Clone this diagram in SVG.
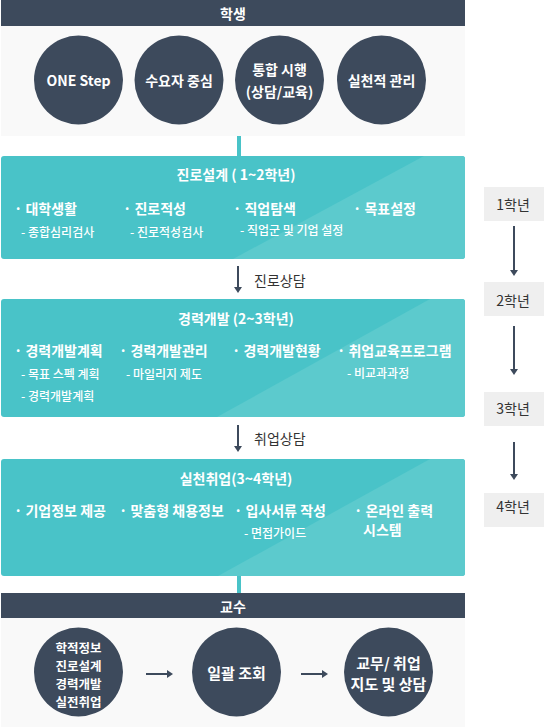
<svg xmlns="http://www.w3.org/2000/svg" width="544" height="727" viewBox="0 0 544 727">
<style>
text{font-family:"Noto Sans CJK KR","Noto Sans",sans-serif;dominant-baseline:central}
.hdr{fill:#3d4a5c}
.panel{fill:#f9f9f9}
.dot{fill:#3d4a5c}
.ct{fill:#fff;font-size:14px;font-weight:bold;text-anchor:middle}
.cb{fill:#fff;font-size:15px;font-weight:bold;text-anchor:middle}
.ct2{fill:#fff;font-size:12.5px;font-weight:bold;text-anchor:middle}
.ht{fill:#fff;font-size:14px;font-weight:bold;text-anchor:middle}
.teal{fill:#49c3c8}
.light{fill:#5ccacd}
.tt{fill:#fff;font-size:14px;font-weight:bold;text-anchor:middle}
.it{fill:#fff;font-size:14px;font-weight:bold}
.st{fill:#fff;font-size:12px;font-weight:500}
.lbl{fill:#333;font-size:14px}
.yr{fill:#efefef}
.yt{fill:#333;font-size:14px;text-anchor:middle}
.ln{stroke:#3d4a5c;stroke-width:2;fill:none}
.tl{fill:#49c3c8}
</style>
<defs>
<marker id="ah" markerUnits="userSpaceOnUse" markerWidth="10" markerHeight="10" refX="3" refY="4" orient="auto">
<path d="M0,0 L6,4 L0,8 z" fill="#3d4a5c"/>
</marker>
<clipPath id="c1"><rect x="1" y="156" width="464" height="103" rx="3"/></clipPath>
<clipPath id="c2"><rect x="1" y="299" width="464" height="118" rx="3"/></clipPath>
<clipPath id="c3"><rect x="1" y="459" width="464" height="117" rx="3"/></clipPath>
</defs>

<g id="student">
<rect class="hdr" x="1" y="0" width="464" height="26"/>
<text class="ht" x="233" y="13">학생</text>
<rect class="panel" x="1" y="26" width="464" height="110"/>
</g>
<g id="s1"><circle class="dot" cx="78.5" cy="80" r="44.5"/><text class="ct" x="78.5" y="80">ONE Step</text></g>
<g id="s2"><circle class="dot" cx="179" cy="80" r="44.5"/><text class="ct" x="179" y="80">수요자 중심</text></g>
<g id="s3"><circle class="dot" cx="279.5" cy="80" r="44.5"/><text class="ct" x="279.5" y="69">통합 시행</text><text class="ct" x="279.5" y="91">(상담/교육)</text></g>
<g id="s4"><circle class="dot" cx="381.5" cy="80" r="44.5"/><text class="ct" x="381.5" y="80">실천적 관리</text></g>

<g id="box1">
<g clip-path="url(#c1)">
<rect class="teal" x="1" y="156" width="464" height="103"/>
<polygon class="light" points="233,259 424,156 470,156 470,259"/>
</g>
<text class="tt" x="236" y="174">진로설계 ( 1~2학년)</text>
<text class="it" x="14" y="208">· 대학생활</text>
<text class="it" x="123" y="208">· 진로적성</text>
<text class="it" x="233" y="208">· 직업탐색</text>
<text class="it" x="353" y="208">· 목표설정</text>
<text class="st" x="21" y="231">- 종합심리검사</text>
<text class="st" x="130" y="231">- 진로적성검사</text>
<text class="st" x="240" y="229">- 직업군 및 기업 설정</text>
</g>

<g id="box2">
<g clip-path="url(#c2)">
<rect class="teal" x="1" y="299" width="464" height="118"/>
<polygon class="light" points="217,417 430,299 470,299 470,417"/>
</g>
<text class="tt" x="236" y="318">경력개발 (2~3학년)</text>
<text class="it" x="14" y="350">· 경력개발계획</text>
<text class="it" x="119" y="350">· 경력개발관리</text>
<text class="it" x="232" y="350">· 경력개발현황</text>
<text class="it" x="337" y="350">· 취업교육프로그램</text>
<text class="st" x="21" y="373">- 목표 스펙 계획</text>
<text class="st" x="21" y="395">- 경력개발계획</text>
<text class="st" x="126" y="373">- 마일리지 제도</text>
<text class="st" x="347" y="372">- 비교과과정</text>
</g>

<g id="box3">
<g clip-path="url(#c3)">
<rect class="teal" x="1" y="459" width="464" height="117"/>
<polygon class="light" points="218,576 430,459 470,459 470,576"/>
</g>
<text class="tt" x="236" y="478">실천취업(3~4학년)</text>
<text class="it" x="14" y="510">· 기업정보 제공</text>
<text class="it" x="119" y="510">· 맞춤형 채용정보</text>
<text class="it" x="234" y="510">· 입사서류 작성</text>
<text class="it" x="354" y="510">· 온라인 출력</text>
<text class="it" x="363" y="529">시스템</text>
<text class="st" x="244" y="532">- 면접가이드</text>
</g>

<g id="professor">
<rect class="hdr" x="1" y="593" width="464" height="25"/>
<text class="ht" x="233" y="606">교수</text>
<rect class="panel" x="1" y="618" width="464" height="109"/>
</g>
<g id="p1"><circle class="dot" cx="78.5" cy="672" r="44.5"/>
<text class="ct2" x="78.5" y="647">학적정보</text>
<text class="ct2" x="78.5" y="665">진로설계</text>
<text class="ct2" x="78.5" y="683">경력개발</text>
<text class="ct2" x="78.5" y="701">실전취업</text></g>
<g id="p2"><circle class="dot" cx="236.5" cy="672" r="44.5"/><text class="cb" x="236.5" y="672">일괄 조회</text></g>
<g id="p3"><circle class="dot" cx="388.5" cy="672" r="44.5"/><text class="cb" x="388.5" y="662">교무/ 취업</text><text class="cb" x="388.5" y="683">지도 및 상담</text></g>

<g id="y1"><rect class="yr" x="484" y="187" width="60" height="34"/><text class="yt" x="513" y="204">1학년</text></g>
<g id="y2"><rect class="yr" x="484" y="282" width="60" height="34"/><text class="yt" x="513" y="300">2학년</text></g>
<g id="y3"><rect class="yr" x="484" y="392" width="60" height="34"/><text class="yt" x="513" y="408">3학년</text></g>
<g id="y4"><rect class="yr" x="484" y="493" width="60" height="34"/><text class="yt" x="513" y="506">4학년</text></g>

<g id="connectors">
<rect class="tl" x="237" y="136" width="4" height="20"/>
<rect class="tl" x="237" y="576" width="4" height="17"/>
<line class="ln" x1="238" y1="266" x2="238" y2="290" marker-end="url(#ah)"/>
<line class="ln" x1="238" y1="425" x2="238" y2="449" marker-end="url(#ah)"/>
<line class="ln" x1="146" y1="674" x2="170" y2="674" marker-end="url(#ah)"/>
<line class="ln" x1="301" y1="674" x2="325" y2="674" marker-end="url(#ah)"/>
<line class="ln" x1="514" y1="226" x2="514" y2="273" marker-end="url(#ah)"/>
<line class="ln" x1="514" y1="326" x2="514" y2="372" marker-end="url(#ah)"/>
<line class="ln" x1="514" y1="442" x2="514" y2="477" marker-end="url(#ah)"/>
<text class="lbl" x="254" y="280">진로상담</text>
<text class="lbl" x="254" y="438">취업상담</text>
</g>
</svg>
